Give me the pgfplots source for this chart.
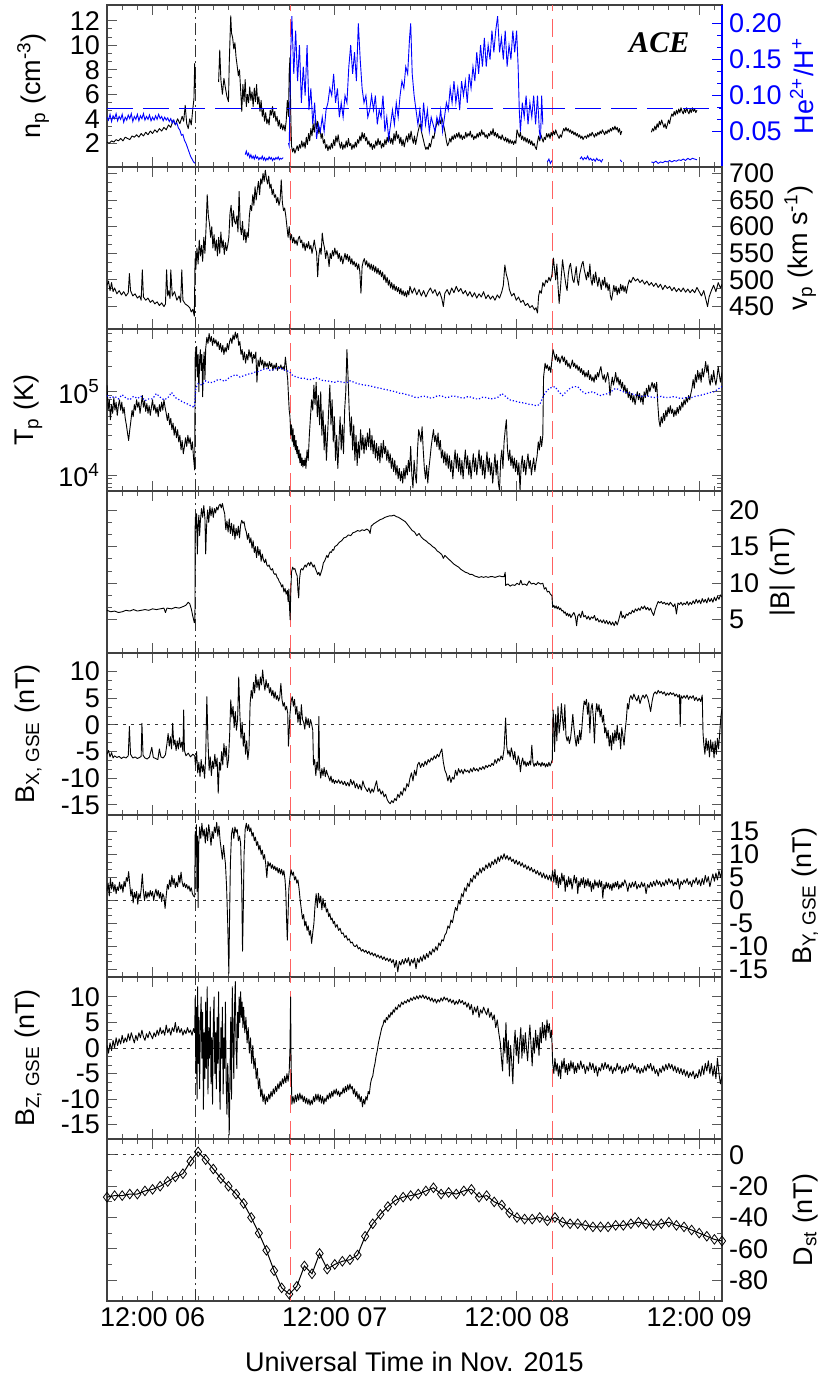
\documentclass[border=0pt]{standalone}
\usepackage{fontspec}
\setmainfont{Liberation Sans}
\newfontfamily\timesf{Liberation Serif}
\usepackage{pgfplots}
\pgfplotsset{compat=1.18}
\definecolor{redl}{rgb}{1,0.38,0.38}
\newcommand{\lbl}{\fontsize{13.5}{15}\selectfont}
\newcommand{\vlines}[2]{%
 \addplot[forget plot, black!80, line width=0.5pt, dash pattern=on 6pt off 2pt on 1pt off 2pt] coordinates {(17.6,#1) (17.6,#2)};
 \addplot[forget plot, redl, line width=0.6pt, dash pattern=on 9pt off 4pt] coordinates {(30.2,#1) (30.2,#2)};
 \addplot[forget plot, redl, line width=0.6pt, dash pattern=on 9pt off 4pt] coordinates {(64.7,#1) (64.7,#2)};
}
\newcommand{\zline}{\addplot[forget plot, black!80, line width=0.5pt, dash pattern=on 1.5pt off 2.5pt] coordinates {(6,0) (87,0)};}
\pgfplotsset{
 panel/.style={
  width=307.5pt, height=81pt, scale only axis, anchor=south west,
  xmin=6, xmax=87, xtick={12,36,60,84}, minor xtick={6,8,...,86}, xticklabels=\empty,
  tick align=inside, major tick length=5pt, minor tick length=2.5pt,
  axis line style={black!75, line width=0.6pt},
  every tick/.style={black!65, line width=0.5pt},
  tick label style={font=\lbl}, label style={font=\lbl},
  yticklabel style={inner ysep=0.5pt},
  /pgf/number format/assume math mode=true,
 },
 dat/.style={black, line width=0.45pt, line join=round},
 lefty/.style={yticklabel pos=left, every axis y label/.style={at={(axis description cs:#1,0.5)}, rotate=90, anchor=center, font=\lbl}},
 righty/.style={yticklabel pos=right, every axis y label/.style={at={(axis description cs:#1,0.5)}, rotate=90, anchor=center, font=\lbl}},
}
\begin{document}
\begin{tikzpicture}
\path[use as bounding box] (-53.5pt,-40.5pt) rectangle (361.5pt,650.5pt);
%================ Panel 1: n_p
\begin{axis}[panel, at={(0pt,567pt)}, lefty=-0.12, ytick pos=left,
 ymin=0.07, ymax=13.28, ytick={2,4,...,12}, minor y tick num=2,
 ylabel={n\textsubscript{p} (cm\textsuperscript{-3})}]
\vlines{0.07}{13.28}
\addplot[dat] coordinates {(6.0,2.1) (6.3,2.0) (6.6,2.2) (6.9,2.1) (7.2,2.3) (7.5,2.2) (7.8,2.4) (8.1,2.2) (8.4,2.5) (8.7,2.4) (9.0,2.3) (9.3,2.6) (9.6,2.5) (9.9,2.7) (10.2,2.5) (10.5,2.8) (10.8,2.6) (11.1,2.9) (11.4,2.7) (11.7,3.0) (12.0,2.8) (12.3,3.1) (12.6,2.9) (12.9,3.2) (13.2,3.0) (13.5,3.3) (13.8,3.1) (14.1,3.5) (14.4,3.3) (14.7,3.9) (15.0,3.5) (15.3,4.0) (15.6,3.6) (15.9,4.2) (16.1,3.8) (16.3,5.1) (16.5,3.6) (16.7,3.2) (16.9,4.0) (17.1,3.5) (17.3,4.8) (17.45,5.6) (17.55,8.5) (17.65,6.5)};
\addplot[dat] coordinates {(20.7,7.0) (20.85,9.6) (21.0,7.2) (21.2,6.0) (21.4,7.3) (21.6,6.5) (21.8,5.8) (22.0,5.4) (22.1,8.5) (22.2,10.5) (22.3,12.4) (22.4,11.0) (22.55,10.6) (22.7,9.7) (22.85,10.2) (23.0,9.0) (23.15,8.3) (23.3,7.5) (23.45,8.0) (23.6,6.4) (23.75,4.6) (23.9,6.8) (24.05,5.4) (24.2,7.2) (24.35,5.0) (24.5,6.0) (24.65,5.3) (24.8,6.6) (24.95,5.5) (25.1,6.2) (25.25,5.0) (25.4,6.5) (25.55,5.4) (25.7,6.8) (25.85,5.2) (26.0,5.8) (26.15,4.6) (26.3,5.5) (26.45,4.2) (26.6,4.8) (26.75,3.8) (26.9,4.5) (27.05,3.6) (27.2,4.0) (27.35,3.5) (27.5,4.7) (27.65,4.3) (27.8,5.0) (27.95,4.1) (28.1,4.6) (28.25,3.8) (28.4,4.2) (28.55,3.4) (28.7,3.9) (28.85,3.2) (29.0,3.6) (29.15,3.1) (29.3,3.5) (29.45,3.0) (29.6,3.8) (29.75,5.5) (29.9,4.2) (30.0,7.8) (30.1,9.0) (30.2,4.5) (30.3,1.8) (30.45,1.3) (30.6,1.6) (30.75,1.2) (30.9,1.5) (31.05,1.8) (31.2,1.4) (31.35,1.9) (31.5,1.6) (31.65,2.2) (31.8,1.7) (31.95,2.1) (32.1,1.6) (32.25,2.5) (32.4,1.9) (32.55,2.8) (32.7,2.2) (32.85,3.2) (33.0,2.6) (33.15,3.6) (33.3,2.9) (33.45,4.1) (33.6,3.2) (33.75,3.8) (33.9,2.8) (34.05,3.3) (34.2,2.4) (34.35,2.8) (34.5,2.0) (34.65,2.3) (34.8,1.6) (34.95,1.9) (35.1,1.4) (35.25,1.8) (35.4,1.5) (35.55,2.0) (35.7,1.6) (35.85,2.3) (36.0,1.8) (36.15,2.6) (36.3,2.1) (36.45,2.7) (36.6,2.0) (36.75,1.6) (36.9,2.1) (37.05,1.5) (37.2,1.9) (37.35,1.6) (37.5,2.2) (37.65,1.7) (37.8,2.4) (37.95,1.8) (38.1,2.0) (38.25,1.5) (38.4,1.9) (38.55,1.6) (38.7,2.1) (38.85,1.7) (39.0,2.3) (39.15,2.0) (39.3,2.6) (39.45,2.2) (39.6,2.9) (39.75,2.4) (39.9,2.8) (40.05,2.2) (40.2,2.5) (40.35,1.9) (40.5,2.2) (40.65,1.7) (40.8,2.0) (40.95,1.5) (41.1,1.9) (41.25,1.6) (41.4,2.2) (41.55,1.8) (41.7,2.4) (41.85,1.9) (42.0,2.2) (42.15,1.6) (42.3,2.0) (42.45,1.7) (42.6,2.3) (42.75,1.9) (42.9,2.5) (43.05,2.1) (43.2,2.6) (43.35,2.0) (43.5,2.4) (43.65,1.9) (43.8,2.8) (43.95,2.2) (44.1,3.0) (44.25,2.4) (44.4,2.7) (44.55,2.0) (44.7,2.5) (44.85,1.8) (45.0,2.3) (45.15,1.7) (45.3,2.2) (45.45,2.6) (45.6,2.1) (45.75,2.8) (45.9,2.3) (46.05,3.0) (46.2,2.4) (46.35,2.0) (46.5,2.6) (46.65,1.9) (46.8,2.4) (46.95,2.9) (47.1,3.3) (47.25,3.6) (47.4,3.0) (47.55,2.6) (47.7,2.2) (47.85,1.8) (48.0,1.5) (48.15,1.7) (48.3,1.5) (48.45,2.0) (48.6,1.7) (48.75,2.2) (48.9,2.6) (49.05,2.4) (49.2,3.0) (49.35,3.4) (49.5,3.8) (49.65,3.5) (49.8,4.0) (49.95,3.6) (50.1,4.1) (50.25,3.7) (50.4,3.3) (50.55,2.8) (50.7,2.2) (50.85,1.8) (51.0,2.0) (51.15,2.4) (51.3,2.1) (51.45,2.6) (51.6,2.3) (51.75,2.7) (51.9,2.4) (52.05,2.8) (52.2,2.5) (52.35,2.9) (52.5,2.4) (52.65,2.7) (52.8,2.3) (52.95,2.6) (53.1,2.4) (53.25,2.9) (53.4,2.5) (53.55,2.8) (53.7,2.6) (53.85,3.0) (54.0,2.5) (54.15,2.7) (54.3,2.3) (54.45,2.6) (54.6,2.4) (54.75,2.8) (54.9,2.5) (55.05,2.9) (55.2,2.6) (55.35,3.1) (55.5,2.7) (55.65,2.9) (55.8,2.5) (55.95,2.7) (56.1,2.4) (56.25,2.8) (56.4,2.6) (56.55,3.0) (56.7,2.7) (56.85,3.2) (57.0,2.6) (57.15,2.9) (57.3,2.5) (57.45,2.8) (57.6,2.4) (57.75,2.6) (57.9,2.3) (58.05,2.7) (58.2,2.4) (58.35,2.2) (58.5,2.5) (58.65,2.1) (58.8,2.4) (58.95,2.0) (59.1,2.3) (59.25,2.0) (59.4,2.2) (59.55,1.9) (59.7,2.2) (59.85,2.0) (60.0,3.1) (60.15,2.8) (60.3,2.5) (60.45,2.9) (60.6,2.3) (60.75,2.6) (60.9,2.2) (61.05,2.5) (61.2,2.1) (61.35,2.4) (61.5,2.0) (61.65,2.3) (61.8,1.9) (61.95,2.2) (62.1,1.8) (62.25,2.0) (62.4,1.7) (62.55,1.5) (62.7,2.1) (62.85,2.6) (63.0,2.2) (63.15,2.7) (63.3,2.4) (63.45,2.1) (63.6,2.5) (63.75,2.3) (63.9,2.8) (64.05,2.5) (64.2,2.8) (64.35,2.4) (64.5,2.9) (64.65,2.6) (64.8,3.0) (64.95,2.7) (65.1,3.1) (65.25,2.8) (65.4,2.6) (65.55,2.4) (65.7,2.7) (65.85,2.5) (66.0,2.9) (66.15,3.2) (66.3,3.0) (66.45,3.3) (66.6,3.0) (66.75,3.2) (66.9,2.9) (67.05,3.1) (67.2,2.8) (67.35,3.0) (67.5,2.7) (67.65,2.9) (67.8,2.6) (67.95,2.8) (68.1,2.5) (68.25,2.7) (68.4,2.4) (68.55,2.6) (68.7,2.3) (68.85,2.5) (69.0,2.6) (69.15,2.4) (69.3,2.7) (69.45,2.5) (69.6,2.8) (69.75,2.6) (69.9,2.9) (70.05,2.7) (70.2,2.5) (70.35,2.8) (70.5,2.6) (70.65,2.9) (70.8,2.7) (70.95,3.0) (71.1,2.8) (71.25,3.1) (71.4,2.9) (71.55,2.7) (71.7,3.0) (71.85,2.8) (72.0,3.1) (72.15,2.9) (72.3,3.2) (72.45,3.0) (72.6,3.3) (72.75,3.1) (72.9,3.4) (73.05,3.1) (73.2,3.3) (73.35,2.9) (73.5,3.2) (73.65,2.7) (73.8,3.0)};
\addplot[dat] coordinates {(77.7,2.9) (77.85,3.2) (78.0,3.0) (78.15,3.4) (78.3,3.1) (78.45,3.6) (78.6,3.3) (78.75,3.8) (78.9,3.5) (79.05,3.9) (79.2,3.6) (79.35,3.3) (79.5,3.6) (79.65,3.2) (79.8,3.5) (79.95,3.9) (80.1,3.6) (80.25,4.1) (80.4,4.4) (80.55,4.2) (80.7,4.6) (80.85,4.3) (81.0,4.7) (81.15,4.4) (81.3,4.8) (81.45,4.5) (81.6,4.9) (81.75,4.6) (81.9,4.4) (82.05,4.8) (82.2,4.5) (82.35,4.9) (82.5,4.6) (82.65,4.4) (82.8,4.8) (82.95,4.5) (83.1,4.9) (83.25,4.6) (83.4,4.8) (83.55,4.5) (83.7,4.7)};
\node[anchor=center] at (rel axis cs:0.898,0.765) {\fontsize{15}{17}\selectfont\timesf\bfseries\itshape ACE};
\end{axis}
\begin{axis}[panel, at={(0pt,567pt)}, axis x line=none, axis y line*=right,
 righty=1.13, ymin=0.001, ymax=0.2255, ytick={0.05,0.10,0.15,0.20}, yticklabels={0.05,0.10,0.15,0.20},
 minor y tick num=2, y axis line style={blue}, ytick style={blue}, yticklabel style={blue},
 ylabel={He\textsuperscript{2+}/H\textsuperscript{+}}, ylabel style={blue}]
\addplot[forget plot, blue, line width=0.6pt, dash pattern=on 13pt off 5pt] coordinates {(6,0.0815) (87,0.0815)};
\addplot[blue, line width=0.45pt] coordinates {(6.0,0.070) (6.2,0.066) (6.4,0.074) (6.6,0.064) (6.8,0.072) (7.0,0.068) (7.2,0.075) (7.4,0.065) (7.6,0.071) (7.8,0.067) (8.0,0.074) (8.2,0.063) (8.4,0.070) (8.6,0.066) (8.8,0.073) (9.0,0.068) (9.2,0.075) (9.4,0.064) (9.6,0.071) (9.8,0.067) (10.0,0.074) (10.2,0.065) (10.4,0.072) (10.6,0.068) (10.8,0.075) (11.0,0.066) (11.2,0.071) (11.4,0.067) (11.6,0.073) (11.8,0.065) (12.0,0.070) (12.2,0.066) (12.4,0.072) (12.6,0.067) (12.8,0.074) (13.0,0.068) (13.2,0.071) (13.4,0.065) (13.6,0.070) (13.8,0.066) (14.0,0.069) (14.2,0.064) (14.4,0.068) (14.6,0.062) (14.8,0.066) (15.0,0.060) (15.2,0.062) (15.4,0.055) (15.6,0.052) (15.8,0.045) (16.0,0.046) (16.2,0.038) (16.4,0.034) (16.6,0.028) (16.8,0.022) (17.0,0.016) (17.2,0.012) (17.4,0.008) (17.6,0.006)};
\addplot[blue, line width=0.45pt] coordinates {(24.2,0.018) (24.35,0.023) (24.5,0.017) (24.65,0.020) (24.8,0.014) (24.95,0.018) (25.1,0.013) (25.25,0.016) (25.4,0.012) (25.55,0.017) (25.7,0.013) (25.85,0.015) (26.0,0.011) (26.15,0.014) (26.3,0.012) (26.45,0.016) (26.6,0.011) (26.75,0.014) (26.9,0.010) (27.05,0.013) (27.2,0.011) (27.35,0.015) (27.5,0.012) (27.65,0.014) (27.8,0.010) (27.95,0.013) (28.1,0.011) (28.25,0.014) (28.4,0.012) (28.55,0.015) (28.7,0.011) (28.85,0.013) (29.0,0.012) (29.2,0.014)};
\addplot[blue, line width=0.45pt] coordinates {(29.9,0.034) (30.0,0.03) (30.2,0.16) (30.35,0.21) (30.6,0.13) (30.85,0.19) (31.1,0.12) (31.35,0.17) (31.6,0.09) (31.85,0.14) (32.1,0.10) (32.35,0.17) (32.6,0.08) (32.85,0.11) (33.1,0.06) (33.35,0.09) (33.6,0.04) (33.85,0.06) (34.1,0.05) (34.35,0.07) (34.6,0.05) (34.85,0.08) (35.1,0.09) (35.35,0.11) (35.6,0.10) (35.85,0.13) (36.1,0.09) (36.35,0.11) (36.6,0.07) (36.85,0.09) (37.1,0.07) (37.35,0.10) (37.6,0.09) (37.85,0.14) (38.1,0.17) (38.35,0.13) (38.6,0.16) (38.85,0.12) (39.1,0.20) (39.35,0.15) (39.6,0.11) (39.85,0.09) (40.1,0.10) (40.35,0.07) (40.6,0.08) (40.85,0.10) (41.1,0.08) (41.35,0.10) (41.6,0.06) (41.85,0.08) (42.1,0.07) (42.35,0.10) (42.6,0.05) (42.85,0.07) (43.1,0.04) (43.35,0.06) (43.6,0.08) (43.85,0.06) (44.1,0.09) (44.35,0.07) (44.6,0.10) (44.85,0.12) (45.1,0.11) (45.35,0.14) (45.6,0.13) (45.85,0.18) (46.0,0.20) (46.2,0.13) (46.45,0.10) (46.7,0.08) (46.95,0.06) (47.2,0.08) (47.45,0.05) (47.7,0.09) (47.95,0.06) (48.2,0.08) (48.45,0.05) (48.7,0.07) (48.95,0.06) (49.2,0.05) (49.45,0.07) (49.7,0.06) (49.95,0.08) (50.2,0.05) (50.45,0.07) (50.7,0.09) (50.95,0.08) (51.2,0.11) (51.45,0.09) (51.7,0.12) (51.95,0.09) (52.2,0.11) (52.45,0.08) (52.7,0.12) (52.95,0.10) (53.2,0.12) (53.45,0.09) (53.7,0.13) (53.95,0.11) (54.2,0.14) (54.45,0.12) (54.7,0.16) (54.95,0.13) (55.2,0.17) (55.45,0.14) (55.7,0.18) (55.95,0.14) (56.2,0.17) (56.45,0.15) (56.7,0.19) (56.95,0.16) (57.2,0.19) (57.45,0.21) (57.7,0.16) (57.95,0.18) (58.2,0.15) (58.45,0.19) (58.7,0.14) (58.95,0.17) (59.2,0.15) (59.45,0.19) (59.7,0.16) (59.95,0.19) (60.15,0.14) (60.3,0.08) (60.45,0.05) (60.7,0.09) (60.95,0.07) (61.2,0.10) (61.45,0.06) (61.7,0.09) (61.95,0.07) (62.2,0.10) (62.45,0.06) (62.7,0.10) (62.95,0.05) (63.1,0.04) (63.25,0.10) (63.4,0.06)};
\addplot[blue, line width=0.45pt] coordinates {(64.0,0.008) (64.2,0.012) (64.4,0.006) (64.6,0.010)};
\addplot[blue, line width=0.45pt] coordinates {(68.3,0.012) (68.5,0.015) (68.7,0.011) (68.9,0.014) (69.1,0.012) (69.3,0.016) (69.5,0.011) (69.7,0.013) (69.9,0.010) (70.1,0.012) (70.3,0.009) (70.5,0.013) (70.7,0.010) (70.9,0.011) (71.1,0.008) (71.3,0.012)};
\addplot[blue, line width=0.45pt] coordinates {(73.6,0.011) (73.8,0.008)};
\addplot[blue, line width=0.45pt] coordinates {(77.7,0.008) (78.0,0.007) (78.3,0.009) (78.6,0.006) (78.9,0.008) (79.2,0.007) (79.5,0.009) (79.8,0.008) (80.1,0.010) (80.4,0.008) (80.7,0.010) (81.0,0.009) (81.3,0.011) (81.6,0.010) (81.9,0.012) (82.2,0.010) (82.5,0.013) (82.8,0.011) (83.1,0.013) (83.4,0.012) (83.7,0.011)};
\end{axis}
%================ Panel 2: v_p
\begin{axis}[panel, at={(0pt,486pt)}, righty=1.127,
 ymin=408, ymax=712, ytick={450,500,...,700}, minor y tick num=2,
 ylabel={v\textsubscript{p} (km s\textsuperscript{-1})}]
\vlines{408}{712}
\addplot[dat] coordinates {(6.0,490) (6.2,498) (6.4,480) (6.6,495) (6.8,478) (7.0,485) (7.3,474) (7.6,480) (7.9,472) (8.2,478) (8.5,470) (8.8,476) (8.95,512) (9.1,480) (9.4,470) (9.7,474) (10.0,466) (10.3,470) (10.5,462) (10.65,519) (10.8,468) (11.1,462) (11.4,466) (11.7,458) (12.0,462) (12.3,455) (12.6,459) (12.9,452) (13.2,457) (13.5,450) (13.7,455) (13.85,519) (14.0,470) (14.15,480) (14.3,465) (14.4,519) (14.6,470) (14.9,478) (15.2,462) (15.5,470) (15.7,458) (15.85,519) (16.0,462) (16.3,455) (16.6,452) (16.9,448) (17.1,440) (17.3,445) (17.5,432) (17.6,540) (17.7,520) (17.85,560) (18.0,530) (18.15,575) (18.3,545) (18.45,565) (18.6,535) (18.75,580) (18.9,550) (19.05,600) (19.2,660) (19.35,620) (19.5,605) (19.65,580) (19.8,600) (19.95,560) (20.1,585) (20.25,555) (20.4,575) (20.55,545) (20.7,580) (20.85,550) (21.0,590) (21.15,560) (21.3,575) (21.45,548) (21.6,570) (21.75,555) (21.9,565) (22.05,580) (22.2,625) (22.35,640) (22.5,600) (22.65,630) (22.8,610) (22.95,605) (23.1,620) (23.25,590) (23.4,666) (23.55,600) (23.7,585) (23.85,610) (24.0,575) (24.15,595) (24.3,570) (24.45,590) (24.6,580) (24.75,620) (24.9,640) (25.05,630) (25.2,660) (25.35,640) (25.5,675) (25.65,650) (25.8,670) (25.95,685) (26.1,660) (26.25,690) (26.4,680) (26.55,700) (26.7,685) (26.85,706) (27.0,690) (27.15,680) (27.3,695) (27.45,672) (27.6,680) (27.75,660) (27.9,670) (28.05,655) (28.2,660) (28.35,645) (28.5,655) (28.65,640) (28.8,650) (28.95,688) (29.1,645) (29.25,630) (29.4,635) (29.55,620) (29.7,600) (29.85,580) (30.0,600) (30.15,575) (30.3,585) (30.45,570) (30.6,580) (30.75,568) (30.9,575) (31.05,565) (31.2,578) (31.35,582) (31.5,570) (31.65,575) (31.8,560) (31.95,570) (32.1,555) (32.25,568) (32.4,560) (32.55,572) (32.7,558) (32.85,565) (33.0,550) (33.15,562) (33.3,575) (33.45,560) (33.6,552) (33.75,506) (33.9,545) (34.05,560) (34.2,548) (34.35,588) (34.5,570) (34.65,560) (34.8,540) (34.95,555) (35.1,545) (35.25,525) (35.4,550) (35.55,540) (35.7,555) (35.85,545) (36.0,560) (36.15,548) (36.3,555) (36.45,540) (36.6,550) (36.75,535) (36.9,545) (37.05,530) (37.2,540) (37.35,550) (37.5,538) (37.65,548) (37.8,535) (37.95,545) (38.1,530) (38.25,540) (38.4,528) (38.55,535) (38.7,525) (38.85,532) (39.0,520) (39.15,530) (39.3,515) (39.45,475) (39.6,525) (39.75,535) (39.9,540) (40.05,528) (40.2,536) (40.35,524) (40.5,532) (40.65,520) (40.8,530) (40.95,518) (41.1,528) (41.25,515) (41.4,525) (41.55,512) (41.7,522) (41.85,510) (42.0,518) (42.15,506) (42.3,515) (42.45,500) (42.6,510) (42.75,495) (42.9,505) (43.05,490) (43.2,500) (43.35,485) (43.5,495) (43.65,482) (43.8,492) (43.95,480) (44.1,488) (44.25,478) (44.4,486) (44.55,474) (44.7,484) (44.85,472) (45.0,480) (45.15,470) (45.3,478) (45.45,468) (45.6,480) (45.75,472) (45.9,488) (46.2,475) (46.5,485) (46.8,472) (47.1,482) (47.4,470) (47.7,480) (48.0,468) (48.3,478) (48.6,485) (48.9,475) (49.2,482) (49.5,470) (49.8,478) (50.1,465) (50.3,450) (50.5,475) (50.8,482) (51.1,472) (51.4,485) (51.7,476) (52.0,488) (52.3,478) (52.6,484) (52.9,474) (53.2,480) (53.5,470) (53.8,478) (54.1,468) (54.4,476) (54.7,466) (55.0,474) (55.3,468) (55.6,478) (55.9,465) (56.2,472) (56.5,464) (56.8,470) (57.1,462) (57.4,472) (57.7,466) (58.0,478) (58.2,490) (58.4,528) (58.6,510) (58.8,500) (59.0,482) (59.3,470) (59.6,475) (59.9,462) (60.2,468) (60.5,458) (60.8,462) (61.1,452) (61.4,456) (61.7,448) (62.0,452) (62.3,444) (62.5,448) (62.7,438) (62.85,470) (63.0,480) (63.2,475) (63.4,495) (63.6,488) (63.8,500) (64.0,495) (64.2,505) (64.4,498) (64.6,510) (64.8,541) (64.95,520) (65.1,500) (65.25,530) (65.4,490) (65.55,456) (65.7,480) (65.85,510) (66.0,538) (66.15,520) (66.3,505) (66.45,490) (66.6,480) (66.75,510) (66.9,525) (67.05,531) (67.2,515) (67.35,500) (67.5,495) (67.65,510) (67.8,525) (67.95,500) (68.1,490) (68.25,510) (68.4,520) (68.55,530) (68.7,535) (68.85,520) (69.0,510) (69.15,500) (69.3,515) (69.45,505) (69.6,530) (69.75,500) (69.9,490) (70.05,510) (70.2,495) (70.35,515) (70.5,500) (70.65,488) (70.8,505) (70.95,495) (71.1,482) (71.25,500) (71.4,490) (71.55,505) (71.7,485) (71.85,495) (72.0,480) (72.15,492) (72.3,470) (72.45,462) (72.6,475) (72.75,490) (72.9,478) (73.05,488) (73.2,472) (73.35,485) (73.5,475) (73.65,492) (73.8,480) (73.95,490) (74.1,478) (74.25,488) (74.4,475) (74.6,490) (74.8,500) (75.0,495) (75.3,505) (75.6,498) (75.9,502) (76.2,495) (76.5,500) (76.8,492) (77.1,498) (77.4,490) (77.7,495) (78.0,488) (78.3,494) (78.6,486) (78.9,492) (79.2,482) (79.5,490) (79.8,484) (80.1,488) (80.4,480) (80.7,486) (81.0,478) (81.3,484) (81.6,478) (81.9,485) (82.2,477) (82.5,483) (82.8,476) (83.1,482) (83.4,476) (83.7,486) (84.0,478) (84.3,470) (84.6,480) (84.9,462) (85.1,450) (85.3,468) (85.6,480) (85.9,490) (86.2,478) (86.5,495) (86.8,485) (87.0,492)};
\end{axis}
%================ Panel 3: T_p
\begin{axis}[panel, at={(0pt,405pt)}, lefty=-0.128, ymode=log,
 ymin=6430, ymax=5.66e5, ytick={1e4,1e5}, yticklabels={10\textsuperscript{4},10\textsuperscript{5}},
 minor ytick={7000,8000,9000,20000,30000,40000,50000,60000,70000,80000,90000,200000,300000,400000,500000},
 ylabel={T\textsubscript{p} (K)}]
\vlines{6500}{5.6e5}
\addplot[dat] coordinates {(6.0,1.2e5) (6.15,6e4) (6.3,8e4) (6.45,4.6e4) (6.6,7e4) (6.75,5.5e4) (6.9,8.5e4) (7.05,6e4) (7.2,7.5e4) (7.35,5.2e4) (7.5,6.8e4) (7.65,8e4) (7.8,6e4) (7.95,7.5e4) (8.1,5.5e4) (8.25,6.5e4) (8.4,4.8e4) (8.55,4e4) (8.7,3.2e4) (8.85,2.6e4) (9.0,3.5e4) (9.15,4.5e4) (9.3,6e4) (9.45,5e4) (9.6,7e4) (9.75,6e4) (9.9,8e4) (10.05,6.5e4) (10.2,7.5e4) (10.35,5.5e4) (10.5,7e4) (10.65,9e4) (10.8,6.5e4) (10.95,7.8e4) (11.1,5.8e4) (11.25,7.2e4) (11.4,5.5e4) (11.55,6.8e4) (11.7,5.2e4) (11.85,6.5e4) (12.0,8e4) (12.15,6e4) (12.3,7e4) (12.45,5.5e4) (12.6,6.5e4) (12.75,5e4) (12.9,7e4) (13.05,5.8e4) (13.2,7.5e4) (13.35,6e4) (13.5,8e4) (13.65,6.5e4) (13.8,5.5e4) (13.95,4.5e4) (14.1,5.5e4) (14.25,4e4) (14.4,4.8e4) (14.55,3.5e4) (14.7,4.2e4) (14.85,3e4) (15.0,3.8e4) (15.15,2.8e4) (15.3,3.5e4) (15.45,2.5e4) (15.6,3e4) (15.75,2e4) (15.9,2.6e4) (16.05,1.8e4) (16.2,2.2e4) (16.35,2.8e4) (16.5,2.2e4) (16.65,3e4) (16.8,2.4e4) (16.95,2.8e4) (17.1,2e4) (17.25,2.5e4) (17.4,1.6e4) (17.55,1.15e4) (17.62,3e5) (17.7,2e5) (17.8,3.5e5) (17.9,1.5e5) (18.0,2.8e5) (18.1,1e5) (18.2,2.4e5) (18.3,3.2e5) (18.4,1.8e5) (18.5,2.8e5) (18.6,8.7e4) (18.7,2.2e5) (18.8,3e5) (18.9,1.4e5) (19.0,3.3e5) (19.15,4.5e5) (19.3,3.8e5) (19.45,5e5) (19.6,4e5) (19.75,4.6e5) (19.9,3.6e5) (20.05,4.4e5) (20.2,3.8e5) (20.35,4.2e5) (20.5,3.5e5) (20.65,4e5) (20.8,3.2e5) (20.95,3.8e5) (21.1,3e5) (21.25,3.6e5) (21.4,2.8e5) (21.55,3.4e5) (21.7,3e5) (21.85,3.8e5) (22.0,3.2e5) (22.15,4e5) (22.3,4.4e5) (22.45,3.8e5) (22.6,4.8e5) (22.75,4.2e5) (22.9,5.2e5) (23.05,4.4e5) (23.2,5e5) (23.35,3.6e5) (23.5,4e5) (23.65,2.8e5) (23.8,3.2e5) (23.95,2.4e5) (24.1,3e5) (24.25,2.2e5) (24.4,2.8e5) (24.55,2.4e5) (24.7,3.2e5) (24.85,2.6e5) (25.0,3e5) (25.15,2.2e5) (25.3,2.8e5) (25.45,2.5e5) (25.6,3e5) (25.75,1.3e5) (25.9,2.4e5) (26.05,2e5) (26.2,2.6e5) (26.35,2.1e5) (26.5,2.4e5) (26.65,1.9e5) (26.8,2.3e5) (26.95,2e5) (27.1,2.2e5) (27.25,1.9e5) (27.4,2.3e5) (27.55,2e5) (27.7,2.2e5) (27.85,1.8e5) (28.0,2.1e5) (28.15,1.9e5) (28.3,2.2e5) (28.45,1.8e5) (28.6,2e5) (28.75,1.9e5) (28.9,2.1e5) (29.05,1.85e5) (29.2,2e5) (29.35,1.8e5) (29.5,2.6e5) (29.65,1.9e5) (29.8,1.4e5) (29.9,9e4) (30.0,6e4) (30.1,5e4) (30.2,3e4) (30.3,4e4) (30.4,2.5e4) (30.5,3.6e4) (30.6,2.2e4) (30.7,3e4) (30.8,2e4) (30.9,2.6e4) (31.0,1.8e4) (31.1,2.2e4) (31.2,1.6e4) (31.3,2e4) (31.4,1.4e4) (31.5,1.8e4) (31.6,1.3e4) (31.7,1.6e4) (31.8,1.25e4) (31.9,1.5e4) (32.0,1.3e4) (32.1,1.6e4) (32.2,1.2e4) (32.35,2e4) (32.5,1.5e4) (32.65,3e4) (32.8,5e4) (32.95,8e4) (33.1,6e4) (33.25,1.2e5) (33.4,7e4) (33.55,1.3e5) (33.7,5e4) (33.85,9e4) (34.0,4e4) (34.15,1e5) (34.3,3e4) (34.45,6e4) (34.6,2e4) (34.75,4e4) (34.9,1.5e4) (35.05,3e4) (35.2,6e4) (35.35,1.2e5) (35.5,4e4) (35.65,8e4) (35.8,2.5e4) (35.95,5e4) (36.1,1.5e4) (36.25,3e4) (36.4,1.2e4) (36.55,2.5e4) (36.7,5e4) (36.85,2e4) (37.0,4e4) (37.15,1.8e4) (37.3,6e4) (37.45,1e5) (37.6,3.2e5) (37.75,1.5e5) (37.9,6e4) (38.05,3e4) (38.2,5e4) (38.35,2e4) (38.5,4e4) (38.65,1.5e4) (38.8,3e4) (38.95,1.3e4) (39.1,2.5e4) (39.25,1.6e4) (39.4,3.5e4) (39.55,2e4) (39.7,3e4) (39.85,1.8e4) (40.0,2.8e4) (40.15,2e4) (40.3,3.2e4) (40.45,2.2e4) (40.6,3.6e4) (40.75,2e4) (40.9,3e4) (41.05,1.8e4) (41.2,2.6e4) (41.35,1.6e4) (41.5,2.4e4) (41.65,1.5e4) (41.8,2.2e4) (41.95,1.4e4) (42.1,2.4e4) (42.25,1.6e4) (42.4,2.6e4) (42.55,1.8e4) (42.7,2.2e4) (42.85,1.5e4) (43.0,2e4) (43.15,1.4e4) (43.3,1.8e4) (43.45,1.2e4) (43.6,1.6e4) (43.75,1.1e4) (43.9,1.5e4) (44.05,1e4) (44.2,1.3e4) (44.35,9e3) (44.5,1.2e4) (44.65,8.5e3) (44.8,1.1e4) (44.95,8e3) (45.1,1.2e4) (45.25,9e3) (45.4,1.3e4) (45.55,1e4) (45.7,1.5e4) (45.85,1.1e4) (46.0,2.2e4) (46.15,1e4) (46.3,7e3) (46.45,1.5e4) (46.6,1e4) (46.75,8e3) (46.9,2e4) (47.05,3.5e4) (47.2,3e4) (47.35,2.5e4) (47.5,3.8e4) (47.65,2e4) (47.8,1.2e4) (47.95,9e3) (48.1,1.3e4) (48.25,8e3) (48.4,1.2e4) (48.55,1.6e4) (48.7,2.2e4) (48.85,2.8e4) (49.0,3.5e4) (49.15,2.5e4) (49.3,3e4) (49.45,2.2e4) (49.6,3.2e4) (49.75,2e4) (49.9,2.6e4) (50.05,1.6e4) (50.2,2e4) (50.35,1.4e4) (50.5,1.9e4) (50.65,1.3e4) (50.8,1.8e4) (50.95,1.2e4) (51.1,1.7e4) (51.25,1.1e4) (51.4,1.5e4) (51.55,9e3) (51.7,1.4e4) (51.85,2e4) (52.0,1.2e4) (52.15,1.8e4) (52.3,1.1e4) (52.45,1.6e4) (52.6,1e4) (52.75,1.5e4) (52.9,9e3) (53.05,1.4e4) (53.2,2e4) (53.35,1.2e4) (53.5,1.7e4) (53.65,1e4) (53.8,1.5e4) (53.95,9e3) (54.1,1.3e4) (54.25,1.8e4) (54.4,1.1e4) (54.55,1.6e4) (54.7,1e4) (54.85,1.4e4) (55.0,2e4) (55.15,1.2e4) (55.3,1.7e4) (55.45,1e4) (55.6,1.5e4) (55.75,9e3) (55.9,1.3e4) (56.05,1.9e4) (56.2,1.1e4) (56.35,1.6e4) (56.5,1e4) (56.65,1.4e4) (56.8,8e3) (56.95,1.2e4) (57.1,1.8e4) (57.25,1e4) (57.4,1.5e4) (57.55,8e3) (57.7,6.5e3) (57.85,1.5e4) (58.0,2e4) (58.15,1.2e4) (58.3,2.5e4) (58.45,3.5e4) (58.6,4.6e4) (58.75,2e4) (58.9,1.5e4) (59.05,2e4) (59.2,1.3e4) (59.35,1.7e4) (59.5,1.2e4) (59.65,1.6e4) (59.8,1.1e4) (59.95,1.5e4) (60.1,1e4) (60.25,1.4e4) (60.4,6.5e3) (60.55,1.3e4) (60.7,1.7e4) (60.85,1.1e4) (61.0,1.5e4) (61.15,1e4) (61.3,1.4e4) (61.45,1.8e4) (61.6,1.2e4) (61.75,1.5e4) (61.9,1e4) (62.05,1.3e4) (62.2,1.6e4) (62.35,1.1e4) (62.5,1.4e4) (62.65,1.7e4) (62.8,2.5e4) (62.95,2e4) (63.1,2.9e4) (63.25,2.2e4) (63.4,3e4) (63.5,1.5e5) (63.6,1.8e5) (63.7,2.2e5) (63.85,1.9e5) (64.0,2.1e5) (64.15,1.8e5) (64.3,2e5) (64.45,1.7e5) (64.6,2.4e5) (64.75,3.2e5) (64.9,2.8e5) (65.05,2.4e5) (65.2,2.8e5) (65.35,2.3e5) (65.5,2.6e5) (65.65,2.2e5) (65.8,2.5e5) (65.95,2.7e5) (66.1,2.3e5) (66.25,2.6e5) (66.4,2.1e5) (66.55,2.4e5) (66.7,2e5) (66.85,2.2e5) (67.0,1.9e5) (67.15,2.1e5) (67.3,2.4e5) (67.45,2e5) (67.6,2.2e5) (67.75,1.9e5) (67.9,2.1e5) (68.05,1.8e5) (68.2,2e5) (68.35,1.7e5) (68.5,1.9e5) (68.65,1.6e5) (68.8,1.8e5) (68.95,1.5e5) (69.1,1.7e5) (69.25,1.5e5) (69.4,1.8e5) (69.55,1.4e5) (69.7,1.6e5) (69.85,1.35e5) (70.0,1.5e5) (70.15,1.3e5) (70.3,1.6e5) (70.45,1.4e5) (70.6,1.7e5) (70.75,1.5e5) (70.9,1.8e5) (71.05,2e5) (71.2,1.6e5) (71.35,1.4e5) (71.5,1.6e5) (71.65,1.3e5) (71.8,1.5e5) (71.95,1.7e5) (72.1,1.4e5) (72.25,9e4) (72.4,1.2e5) (72.55,1.5e5) (72.7,1.2e5) (72.85,1.4e5) (73.0,1.7e5) (73.15,1.3e5) (73.3,1.5e5) (73.45,1.2e5) (73.6,1.4e5) (73.75,1.1e5) (73.9,1.3e5) (74.05,1e5) (74.2,1.2e5) (74.35,9.5e4) (74.5,1.1e5) (74.65,8.5e4) (74.8,1e5) (74.95,8e4) (75.1,9.5e4) (75.25,7.5e4) (75.4,9e4) (75.55,7e4) (75.7,8.5e4) (75.85,1e5) (76.0,8e4) (76.15,9.5e4) (76.3,7.5e4) (76.45,9e4) (76.6,7e4) (76.75,1e5) (76.9,8.5e4) (77.05,1.1e5) (77.2,9e4) (77.35,1.2e5) (77.5,1e5) (77.65,1.15e5) (77.8,1.3e5) (77.95,1.1e5) (78.1,1.25e5) (78.25,1e5) (78.4,1.3e5) (78.55,7e4) (78.7,4.5e4) (78.85,3.8e4) (79.0,5e4) (79.15,4.2e4) (79.3,5.5e4) (79.45,4.5e4) (79.6,6e4) (79.75,5e4) (79.9,6.5e4) (80.05,5.5e4) (80.2,6.8e4) (80.35,5.5e4) (80.5,6.2e4) (80.65,5e4) (80.8,6e4) (80.95,5.2e4) (81.1,6.5e4) (81.25,5.5e4) (81.4,6.8e4) (81.55,6e4) (81.7,7.5e4) (81.85,6.5e4) (82.0,8e4) (82.15,7e4) (82.3,8.5e4) (82.45,7.5e4) (82.6,9e4) (82.75,8e4) (82.9,9.5e4) (83.05,1.1e5) (83.2,1.4e5) (83.35,1.1e5) (83.5,1.6e5) (83.65,1.3e5) (83.8,1.8e5) (83.95,1.4e5) (84.1,1.7e5) (84.25,1.3e5) (84.4,1.9e5) (84.55,1.5e5) (84.7,1.8e5) (84.85,2.3e5) (85.0,1.7e5) (85.15,2.1e5) (85.3,1.4e5) (85.45,1.2e5) (85.6,1.6e5) (85.75,1.3e5) (85.9,1.8e5) (86.05,1.4e5) (86.2,1.2e5) (86.35,1.5e5) (86.5,2e5) (86.65,1.6e5) (86.8,1.3e5) (87.0,1.7e5)};
\addplot[blue, line width=0.6pt, densely dotted] coordinates {(6,9e4) (6.5,8.4e4) (7,8.8e4) (7.5,8.2e4) (8,9.2e4) (8.5,8.4e4) (9,8e4) (9.5,8.8e4) (10,8.3e4) (10.5,8.8e4) (11,7.8e4) (11.5,8.2e4) (12,8.2e4) (12.5,9.5e4) (13,8.6e4) (13.5,8e4) (14,8.4e4) (14.5,9.8e4) (15,8.5e4) (15.5,8e4) (16,7.5e4) (16.5,7.2e4) (17,6.8e4) (17.5,6.5e4) (17.7,1.1e5) (18,1.25e5) (18.5,1.2e5) (19,1.35e5) (19.5,1.28e5) (20,1.3e5) (20.5,1.38e5) (21,1.4e5) (21.5,1.33e5) (22,1.45e5) (22.5,1.55e5) (23,1.6e5) (23.5,1.5e5) (24,1.55e5) (24.5,1.62e5) (25,1.65e5) (25.5,1.72e5) (26,1.75e5) (26.5,1.85e5) (27,1.9e5) (27.5,1.8e5) (28,1.85e5) (28.5,1.95e5) (29,1.9e5) (29.5,1.8e5) (30,1.75e5) (30.5,1.55e5) (31,1.5e5) (31.5,1.45e5) (32,1.45e5) (32.5,1.4e5) (33,1.4e5) (33.5,1.48e5) (34,1.42e5) (34.5,1.35e5) (35,1.35e5) (35.5,1.32e5) (36,1.3e5) (36.5,1.34e5) (37,1.3e5) (37.5,1.28e5) (38,1.35e5) (38.5,1.3e5) (39,1.25e5) (39.5,1.22e5) (40,1.2e5) (40.5,1.18e5) (41,1.15e5) (41.5,1.12e5) (42,1.1e5) (42.5,1.07e5) (43,1.05e5) (43.5,1.02e5) (44,1e5) (44.5,9.6e4) (45,9.5e4) (45.5,9.2e4) (46,9e4) (46.5,8.6e4) (47,8.5e4) (47.5,8.8e4) (48,8.8e4) (48.5,8.4e4) (49,8.5e4) (49.5,8.9e4) (50,9e4) (50.5,8.5e4) (51,8.6e4) (51.5,8.9e4) (52,8.8e4) (52.5,8.5e4) (53,8.4e4) (53.5,8.7e4) (54,8.6e4) (54.5,8.2e4) (55,8.2e4) (55.5,8.6e4) (56,8.5e4) (56.5,8.2e4) (57,8.3e4) (57.5,8.6e4) (58,9.5e4) (58.5,8.8e4) (59,8e4) (59.5,7.8e4) (60,7.6e4) (60.5,7.4e4) (61,7.3e4) (61.5,7.1e4) (62,7e4) (62.5,6.8e4) (63,7e4) (63.5,9e4) (64,1.05e5) (64.5,1.12e5) (65,1.15e5) (65.5,1e5) (66,9e4) (66.5,1e5) (67,1.1e5) (67.5,1.15e5) (68,1.15e5) (68.5,1.02e5) (69,9.5e4) (69.5,9.8e4) (70,1e5) (70.5,9.4e4) (71,9e4) (71.5,9.3e4) (72,9.5e4) (72.5,1.02e5) (73,1.1e5) (73.5,1.05e5) (74,1e5) (74.5,9.8e4) (75,9.5e4) (75.5,9.2e4) (76,9e4) (76.5,8.8e4) (77,9e4) (77.5,8.7e4) (78,8.5e4) (78.5,8.6e4) (79,8.8e4) (79.5,8.5e4) (80,8.5e4) (80.5,8.7e4) (81,8.6e4) (81.5,8.3e4) (82,8.4e4) (82.5,8.6e4) (83,8.5e4) (83.5,8.8e4) (84,9e4) (84.5,9.2e4) (85,9.5e4) (85.5,9.8e4) (86,1e5) (86.5,1.08e5) (87,1.15e5)};
\end{axis}
%================ Panel 4: |B|
\begin{axis}[panel, at={(0pt,324pt)}, righty=1.098,
 ymin=0.47, ymax=22.6, ytick={5,10,15,20}, minor y tick num=2,
 ylabel={|B| (nT)}]
\vlines{0.47}{22.6}
\addplot[dat] coordinates {(6.0,6.3) (6.5,6.1) (7.0,6.2) (7.5,6.0) (8.0,6.1) (8.5,6.3) (9.0,6.2) (9.5,6.4) (10.0,6.2) (10.5,6.3) (11.0,6.4) (11.5,6.3) (12.0,6.5) (12.5,6.4) (13.0,6.5) (13.5,6.6) (13.7,6.0) (13.9,6.6) (14.5,6.5) (15.0,6.7) (15.5,6.6) (16.0,6.8) (16.4,7.0) (16.7,7.4) (16.9,7.2) (17.1,6.5) (17.3,5.5) (17.5,4.6) (17.58,5.0) (17.62,19.0) (17.7,17.5) (17.8,19.5) (17.9,14.0) (18.0,18.0) (18.1,19.3) (18.2,16.5) (18.3,18.5) (18.45,20.2) (18.6,19.0) (18.75,20.6) (18.9,18.8) (19.0,14.0) (19.1,17.5) (19.25,20.0) (19.4,18.3) (19.55,20.5) (19.7,19.2) (19.85,20.3) (20.0,19.0) (20.15,20.2) (20.3,19.6) (20.45,20.4) (20.6,20.0) (20.75,20.6) (20.9,20.8) (21.05,20.3) (21.2,20.9) (21.35,20.1) (21.5,19.5) (21.65,17.3) (21.8,18.5) (21.95,17.0) (22.1,18.8) (22.25,16.8) (22.4,18.2) (22.55,16.5) (22.7,18.0) (22.85,16.0) (23.0,17.5) (23.15,16.5) (23.3,17.8) (23.45,16.2) (23.6,18.0) (23.75,18.6) (23.9,18.2) (24.05,18.4) (24.2,17.5) (24.35,17.0) (24.5,16.0) (24.65,16.8) (24.8,15.5) (24.95,16.2) (25.1,14.8) (25.25,15.8) (25.4,14.2) (25.55,15.0) (25.7,13.5) (25.85,15.0) (26.0,13.8) (26.15,14.6) (26.3,13.0) (26.45,14.0) (26.6,13.2) (26.75,12.8) (26.9,13.3) (27.05,12.5) (27.2,12.3) (27.35,12.5) (27.5,12.0) (27.65,11.8) (27.8,12.0) (27.95,11.4) (28.1,11.2) (28.25,11.3) (28.4,10.8) (28.55,10.6) (28.7,10.2) (28.85,10.0) (29.0,9.5) (29.15,9.8) (29.3,8.8) (29.45,9.3) (29.6,8.5) (29.75,9.0) (29.85,7.5) (29.95,9.2) (30.05,6.5) (30.12,5.0) (30.2,8.5) (30.3,11.5) (30.45,12.2) (30.6,11.9) (30.75,12.0) (30.9,11.4) (31.05,11.0) (31.15,9.0) (31.25,8.0) (31.35,10.5) (31.5,11.8) (31.65,12.0) (31.8,11.8) (31.95,12.2) (32.1,12.5) (32.25,12.2) (32.4,12.6) (32.55,12.8) (32.7,12.4) (32.85,12.9) (33.0,12.6) (33.15,12.2) (33.3,12.5) (33.45,12.0) (33.6,11.6) (33.75,11.2) (33.9,11.5) (34.05,11.0) (34.2,11.5) (34.35,12.0) (34.5,12.8) (34.65,13.0) (34.8,13.4) (34.95,13.8) (35.1,13.5) (35.25,14.0) (35.4,14.3) (35.55,14.2) (35.7,14.6) (35.85,14.5) (36.0,15.0) (36.3,15.2) (36.6,15.6) (36.9,15.8) (37.2,16.2) (37.5,16.3) (37.8,16.6) (38.1,16.5) (38.4,16.9) (38.7,17.0) (39.0,17.2) (39.3,17.1) (39.6,17.3) (39.9,17.2) (40.2,17.4) (40.5,17.2) (40.65,16.8) (40.8,17.8) (41.1,18.1) (41.4,18.3) (41.7,18.5) (42.0,18.7) (42.3,18.8) (42.6,19.0) (42.9,19.1) (43.2,19.2) (43.5,19.2) (43.8,19.3) (44.1,19.1) (44.4,19.0) (44.7,18.8) (45.0,18.6) (45.3,18.4) (45.6,18.0) (45.9,17.6) (46.2,17.2) (46.5,17.0) (46.8,16.5) (47.1,16.8) (47.4,16.3) (47.7,16.0) (48.0,15.8) (48.3,15.5) (48.6,15.3) (48.9,15.0) (49.2,14.8) (49.5,14.4) (49.8,14.2) (50.1,13.9) (50.3,13.4) (50.5,13.8) (50.8,13.5) (51.1,13.2) (51.4,12.9) (51.7,12.6) (52.0,12.4) (52.3,12.2) (52.6,11.9) (52.9,11.7) (53.2,11.5) (53.5,11.4) (53.8,11.2) (54.1,11.2) (54.4,11.0) (54.7,10.9) (55.0,10.8) (55.3,10.9) (55.6,10.8) (55.9,10.9) (56.2,10.8) (56.5,10.9) (56.8,10.9) (57.1,10.8) (57.4,10.9) (57.7,11.0) (58.0,10.9) (58.3,10.9) (58.45,11.5) (58.5,9.7) (58.8,9.9) (59.1,9.6) (59.4,9.8) (59.7,9.7) (60.0,10.0) (60.3,9.8) (60.5,10.4) (60.7,9.8) (61.0,9.9) (61.3,9.7) (61.6,10.3) (61.9,9.9) (62.2,10.0) (62.5,9.8) (62.8,10.1) (63.1,9.9) (63.4,10.0) (63.6,9.2) (63.8,9.4) (64.0,8.8) (64.2,8.9) (64.4,8.5) (64.6,8.3) (64.7,6.7) (64.85,7.0) (65.0,6.6) (65.15,6.9) (65.3,6.5) (65.45,6.8) (65.6,6.4) (65.75,6.6) (65.9,6.2) (66.05,6.3) (66.2,5.9) (66.35,6.1) (66.5,5.6) (66.65,5.9) (66.8,5.5) (66.95,5.8) (67.1,5.3) (67.3,5.7) (67.5,6.0) (67.7,5.4) (67.85,4.2) (68.0,5.5) (68.2,5.8) (68.4,5.3) (68.6,6.2) (68.8,5.4) (69.0,5.6) (69.2,5.1) (69.4,5.5) (69.6,5.0) (69.8,5.4) (70.0,5.2) (70.2,5.6) (70.4,4.9) (70.6,5.2) (70.8,4.7) (71.0,5.0) (71.2,4.6) (71.4,5.0) (71.6,4.5) (71.8,4.9) (72.0,4.4) (72.2,4.8) (72.4,4.3) (72.6,4.7) (72.8,4.2) (73.0,4.8) (73.2,4.3) (73.4,5.0) (73.6,5.8) (73.7,6.2) (73.85,5.3) (74.0,5.6) (74.2,5.2) (74.4,5.8) (74.6,5.6) (74.8,6.0) (75.0,5.8) (75.2,6.3) (75.4,6.0) (75.6,6.5) (75.8,6.2) (76.0,6.6) (76.2,6.3) (76.4,6.8) (76.6,6.5) (76.8,6.9) (77.0,6.4) (77.2,6.7) (77.4,6.3) (77.6,6.6) (77.8,6.0) (78.0,5.6) (78.2,6.4) (78.4,7.0) (78.6,7.5) (78.8,7.3) (79.0,7.5) (79.2,7.2) (79.4,7.4) (79.6,7.1) (79.8,7.3) (80.0,7.0) (80.2,7.4) (80.4,7.1) (80.6,6.8) (80.8,7.2) (81.0,5.8) (81.2,7.3) (81.4,7.1) (81.6,7.4) (81.8,7.0) (82.0,7.3) (82.2,7.1) (82.4,7.5) (82.6,7.0) (82.8,7.4) (83.0,7.1) (83.2,7.6) (83.4,7.2) (83.6,7.8) (83.8,7.3) (84.0,7.7) (84.2,7.2) (84.4,7.9) (84.6,7.4) (84.8,7.8) (85.0,7.3) (85.2,8.0) (85.4,7.5) (85.6,7.9) (85.8,7.4) (86.0,8.1) (86.2,7.6) (86.4,8.2) (86.6,7.8) (86.8,8.4) (87.0,8.1)};
\end{axis}
%================ Panel 5: Bx
\begin{axis}[panel, at={(0pt,243pt)}, lefty=-0.128,
 ymin=-16.9, ymax=13.5, ytick={-15,-10,...,10}, minor y tick num=2,
 ylabel={B\textsubscript{X, GSE} (nT)}]
\vlines{-16.9}{13.5}
\zline
\addplot[dat] coordinates {(6.0,-5.5) (6.2,-4.8) (6.4,-6.0) (6.6,-5.2) (6.8,-6.2) (7.0,-5.8) (7.3,-6.1) (7.6,-5.9) (7.9,-6.3) (8.2,-6.0) (8.5,-6.2) (8.8,-5.8) (8.95,-0.3) (9.1,-5.5) (9.4,-6.2) (9.7,-6.0) (10.0,-6.3) (10.3,-6.1) (10.5,-5.9) (10.6,0.3) (10.75,-5.7) (11.0,-6.2) (11.3,-6.4) (11.6,-6.0) (11.9,-4.2) (12.1,-6.1) (12.4,-6.3) (12.7,-6.5) (12.9,-4.5) (13.1,-6.0) (13.4,-6.2) (13.7,-5.6) (13.9,-3.5) (14.05,-1.6) (14.2,-4.0) (14.35,-2.2) (14.5,-4.5) (14.65,0.3) (14.8,-3.8) (14.95,-2.8) (15.1,-4.8) (15.25,-3.0) (15.4,-4.5) (15.55,-2.4) (15.7,-4.2) (15.85,-3.2) (16.0,-5.0) (16.1,2.8) (16.2,-4.8) (16.4,-5.8) (16.7,-5.3) (17.0,-6.0) (17.3,-5.5) (17.55,-5.8) (17.65,-7.5) (17.8,-5.0) (17.95,-9.0) (18.1,-7.0) (18.25,-9.7) (18.4,-6.5) (18.55,-8.8) (18.7,-7.5) (18.85,-10.0) (19.0,-6.0) (19.15,5.3) (19.3,-3.0) (19.45,-8.5) (19.6,-6.0) (19.75,-9.5) (19.9,-6.8) (20.05,-8.2) (20.2,-5.5) (20.35,-7.8) (20.5,-6.2) (20.65,-12.8) (20.8,-7.0) (20.95,-8.5) (21.1,-5.0) (21.25,-7.5) (21.4,-3.5) (21.55,-6.0) (21.7,-4.0) (21.85,-8.0) (22.0,-6.5) (22.15,-2.0) (22.3,4.7) (22.45,1.5) (22.6,3.5) (22.75,-0.5) (22.9,2.5) (23.05,-1.0) (23.2,1.0) (23.35,9.0) (23.5,2.0) (23.65,-2.5) (23.8,0.5) (23.95,-4.0) (24.1,-1.5) (24.25,-5.5) (24.4,-3.0) (24.55,-6.5) (24.7,-4.5) (24.85,4.0) (25.0,6.5) (25.15,5.0) (25.3,8.0) (25.45,6.0) (25.6,9.5) (25.75,7.0) (25.9,8.5) (26.05,6.5) (26.2,9.0) (26.35,7.5) (26.5,10.3) (26.65,8.0) (26.8,6.5) (26.95,8.5) (27.1,7.0) (27.25,7.8) (27.4,6.0) (27.55,7.0) (27.7,5.5) (27.85,6.5) (28.0,5.0) (28.15,6.2) (28.3,4.8) (28.45,5.5) (28.6,4.5) (28.75,5.2) (28.9,7.8) (29.05,4.8) (29.2,3.5) (29.35,4.2) (29.5,2.8) (29.65,3.5) (29.8,2.2) (29.9,-4.0) (30.0,-1.0) (30.1,2.0) (30.25,4.5) (30.4,5.3) (30.55,3.5) (30.7,4.8) (30.85,2.0) (31.0,3.5) (31.15,0.5) (31.3,2.5) (31.45,0.0) (31.6,3.8) (31.75,1.0) (31.9,0.5) (32.05,-0.8) (32.2,1.5) (32.35,0.0) (32.5,1.2) (32.65,-0.5) (32.8,1.0) (32.95,0.2) (33.1,-1.0) (33.2,-7.5) (33.35,-6.5) (33.5,-9.5) (33.65,-7.0) (33.8,-8.5) (33.9,1.6) (34.0,-8.0) (34.15,-10.0) (34.3,-8.2) (34.45,-9.5) (34.6,-8.0) (34.75,-9.7) (34.9,-8.5) (35.05,-9.3) (35.2,-9.8) (35.35,-10.5) (35.5,-9.6) (35.65,-10.8) (35.8,-10.2) (35.95,-11.0) (36.1,-10.4) (36.3,-10.9) (36.5,-10.3) (36.7,-11.0) (36.9,-10.5) (37.1,-11.2) (37.3,-10.6) (37.5,-11.4) (37.7,-10.8) (37.9,-11.5) (38.1,-10.2) (38.3,-11.2) (38.5,-10.5) (38.7,-11.8) (38.9,-11.0) (39.1,-12.0) (39.3,-11.2) (39.5,-12.2) (39.7,-10.5) (39.9,-11.5) (40.1,-12.0) (40.3,-12.5) (40.5,-11.8) (40.7,-12.8) (40.9,-12.0) (41.1,-12.6) (41.3,-11.5) (41.5,-10.5) (41.7,-12.5) (41.9,-12.0) (42.1,-13.0) (42.3,-12.4) (42.5,-13.5) (42.7,-13.0) (42.9,-14.0) (43.1,-14.5) (43.3,-14.8) (43.5,-14.2) (43.7,-14.6) (43.9,-13.8) (44.1,-14.2) (44.3,-13.0) (44.5,-13.6) (44.7,-12.5) (44.9,-13.2) (45.1,-11.8) (45.3,-12.4) (45.5,-11.0) (45.7,-11.6) (45.9,-10.0) (46.1,-9.0) (46.3,-10.5) (46.5,-8.5) (46.7,-9.5) (46.9,-7.5) (47.1,-7.0) (47.3,-8.0) (47.5,-7.2) (47.7,-7.8) (47.9,-6.8) (48.1,-7.5) (48.3,-6.5) (48.5,-7.0) (48.7,-6.2) (48.9,-6.6) (49.1,-5.8) (49.3,-6.3) (49.5,-5.5) (49.7,-6.0) (49.9,-5.2) (50.1,-4.5) (50.3,-7.0) (50.5,-8.5) (50.7,-9.2) (50.9,-10.5) (51.1,-9.5) (51.3,-10.8) (51.5,-9.8) (51.7,-10.2) (51.9,-8.5) (52.1,-9.5) (52.3,-8.2) (52.5,-9.0) (52.7,-8.4) (52.9,-9.2) (53.1,-8.3) (53.3,-8.8) (53.5,-8.5) (53.7,-9.0) (53.9,-8.2) (54.1,-8.8) (54.3,-8.0) (54.5,-8.6) (54.7,-8.2) (54.9,-8.7) (55.1,-8.0) (55.3,-8.4) (55.5,-7.8) (55.7,-8.3) (55.9,-7.6) (56.1,-8.0) (56.3,-7.5) (56.5,-7.8) (56.7,-7.2) (56.9,-7.6) (57.1,-6.5) (57.3,-7.2) (57.5,-6.3) (57.7,-6.8) (57.9,-5.8) (58.1,-6.5) (58.3,-4.5) (58.5,1.3) (58.65,-4.0) (58.8,-5.5) (58.95,-4.8) (59.1,-6.0) (59.25,-4.3) (59.4,-5.2) (59.55,-6.5) (59.7,-5.0) (59.85,-6.8) (60.0,-7.5) (60.15,-5.8) (60.3,-6.5) (60.45,-8.8) (60.6,-7.0) (60.75,-6.2) (60.9,-7.5) (61.05,-6.8) (61.2,-7.8) (61.35,-7.0) (61.5,-7.6) (61.65,-6.8) (61.8,-7.5) (61.95,-3.8) (62.1,-7.0) (62.25,-7.8) (62.4,-7.2) (62.55,-7.6) (62.7,-6.8) (62.85,-7.5) (63.0,-7.2) (63.15,-7.8) (63.3,-7.0) (63.45,-7.6) (63.6,-7.2) (63.75,-7.9) (63.9,-7.3) (64.05,-7.8) (64.2,-7.0) (64.35,-7.7) (64.5,-7.2) (64.65,-6.5) (64.75,2.8) (64.85,0.5) (64.95,-5.0) (65.1,2.0) (65.25,-3.0) (65.4,3.5) (65.55,-1.5) (65.7,0.5) (65.85,4.0) (66.0,1.0) (66.15,-1.0) (66.3,3.8) (66.45,-2.0) (66.6,-3.0) (66.75,-2.2) (66.9,-3.5) (67.05,-2.5) (67.2,-0.5) (67.35,2.0) (67.5,-0.5) (67.65,-2.5) (67.8,-4.0) (67.95,-2.0) (68.1,-3.5) (68.25,-1.0) (68.4,-2.8) (68.55,-0.5) (68.7,2.5) (68.85,4.5) (69.0,3.8) (69.15,4.8) (69.3,2.0) (69.45,4.2) (69.6,-1.5) (69.75,3.0) (69.9,4.0) (70.05,1.5) (70.2,-3.4) (70.35,2.0) (70.5,4.0) (70.65,2.5) (70.8,3.8) (70.95,1.5) (71.1,3.0) (71.25,0.5) (71.4,1.8) (71.55,-1.5) (71.7,-0.5) (71.85,-2.5) (72.0,-1.0) (72.15,-4.0) (72.3,-2.0) (72.45,-4.7) (72.6,-1.5) (72.75,-3.5) (72.9,-1.0) (73.05,-3.0) (73.2,0.0) (73.35,-2.8) (73.5,-1.5) (73.65,-4.5) (73.8,-0.5) (73.95,-2.0) (74.1,-3.8) (74.25,-1.0) (74.4,1.0) (74.55,4.0) (74.7,3.0) (74.85,5.0) (75.0,5.5) (75.2,4.8) (75.4,5.8) (75.6,5.0) (75.8,4.5) (76.0,5.5) (76.2,4.0) (76.4,5.0) (76.6,5.6) (76.8,5.0) (77.0,5.7) (77.2,5.2) (77.4,4.0) (77.6,2.5) (77.8,4.5) (78.0,5.8) (78.2,6.2) (78.4,5.8) (78.6,6.5) (78.8,6.0) (79.0,6.3) (79.2,5.8) (79.4,6.2) (79.6,5.5) (79.8,6.0) (80.0,5.6) (80.2,6.1) (80.4,5.7) (80.6,6.0) (80.8,5.4) (81.0,5.8) (81.2,5.2) (81.4,5.7) (81.5,-0.3) (81.6,5.5) (81.8,5.0) (82.0,5.5) (82.2,5.0) (82.4,5.6) (82.6,4.8) (82.8,5.4) (83.0,5.0) (83.2,5.5) (83.4,4.6) (83.6,5.2) (83.8,4.5) (84.0,5.0) (84.2,4.4) (84.4,5.6) (84.5,-1.5) (84.6,-3.5) (84.75,-5.5) (84.9,-2.5) (85.05,-4.8) (85.2,-3.0) (85.35,-6.0) (85.5,-2.8) (85.65,-5.0) (85.8,-3.2) (85.95,-6.2) (86.1,-3.0) (86.25,-5.5) (86.4,-2.5) (86.55,-4.5) (86.7,-1.5) (86.85,1.5) (87.0,3.0)};
\end{axis}
%================ Panel 6: By
\begin{axis}[panel, at={(0pt,162pt)}, righty=1.135,
 ymin=-16.6, ymax=18.6, ytick={-15,-10,...,15}, minor y tick num=2,
 ylabel={B\textsubscript{Y, GSE} (nT)}]
\vlines{-16.6}{18.6}
\zline
\addplot[dat] coordinates {(6.0,2.0) (6.15,3.8) (6.3,1.0) (6.45,4.8) (6.6,2.5) (6.75,4.0) (6.9,2.0) (7.05,3.5) (7.2,1.5) (7.35,3.0) (7.5,2.2) (7.65,4.0) (7.8,2.5) (7.95,3.5) (8.1,1.8) (8.25,4.2) (8.4,3.0) (8.55,5.0) (8.7,4.2) (8.85,6.3) (9.0,3.5) (9.15,1.0) (9.3,2.5) (9.45,-0.5) (9.6,1.8) (9.75,0.5) (9.9,2.0) (10.05,-0.8) (10.2,1.5) (10.35,0.5) (10.5,2.5) (10.65,5.8) (10.8,2.0) (10.95,0.0) (11.1,2.0) (11.25,0.5) (11.4,1.8) (11.55,0.8) (11.7,2.2) (11.85,1.0) (12.0,2.0) (12.15,0.0) (12.3,1.5) (12.45,2.5) (12.6,1.0) (12.75,2.2) (12.9,0.5) (13.05,1.8) (13.2,-0.2) (13.35,1.5) (13.5,0.8) (13.65,-1.7) (13.8,1.0) (13.95,3.5) (14.1,2.5) (14.25,4.5) (14.4,3.0) (14.55,5.5) (14.7,3.5) (14.85,4.8) (15.0,2.8) (15.15,4.0) (15.3,3.0) (15.45,5.5) (15.6,3.8) (15.75,6.2) (15.9,4.0) (16.05,3.0) (16.2,3.8) (16.35,2.8) (16.5,3.5) (16.65,2.5) (16.8,3.2) (16.95,2.0) (17.1,2.8) (17.25,1.5) (17.4,1.0) (17.55,0.8) (17.62,15.0) (17.7,10.0) (17.78,16.5) (17.85,2.0) (17.92,14.0) (18.0,-1.5) (18.08,12.0) (18.2,16.0) (18.35,13.5) (18.5,16.8) (18.65,14.0) (18.8,15.5) (18.95,12.5) (19.1,15.8) (19.25,13.0) (19.4,16.5) (19.55,14.5) (19.7,12.0) (19.85,15.0) (20.0,13.5) (20.15,16.0) (20.3,14.8) (20.45,17.0) (20.6,14.0) (20.75,16.2) (20.9,13.0) (21.05,11.0) (21.2,9.0) (21.35,12.0) (21.5,9.5) (21.6,8.0) (21.75,3.0) (21.9,-5.0) (22.05,-15.8) (22.15,-3.0) (22.25,8.0) (22.4,14.5) (22.55,15.8) (22.7,13.5) (22.85,16.0) (23.0,14.8) (23.15,15.5) (23.3,13.0) (23.45,14.0) (23.6,12.5) (23.75,3.0) (23.85,-11.0) (23.95,-2.0) (24.05,10.0) (24.2,15.5) (24.35,16.8) (24.5,15.2) (24.65,16.5) (24.8,15.0) (24.95,15.8) (25.1,14.0) (25.25,14.8) (25.4,13.0) (25.55,13.8) (25.7,12.0) (25.85,12.8) (26.0,11.0) (26.15,12.0) (26.3,10.0) (26.45,11.0) (26.6,9.0) (26.75,10.0) (26.9,8.0) (27.05,5.0) (27.2,8.5) (27.35,7.5) (27.5,8.2) (27.65,7.0) (27.8,7.8) (27.95,6.8) (28.1,7.5) (28.25,6.5) (28.4,7.2) (28.55,6.0) (28.7,7.0) (28.85,5.8) (29.0,6.8) (29.15,5.5) (29.3,6.5) (29.45,4.5) (29.55,2.0) (29.65,-4.0) (29.75,-8.6) (29.85,-3.0) (29.95,2.5) (30.1,5.0) (30.25,6.7) (30.4,5.5) (30.55,6.2) (30.7,4.5) (30.85,5.2) (31.0,3.8) (31.15,4.5) (31.3,2.5) (31.45,0.0) (31.6,-2.0) (31.75,-4.0) (31.9,-3.0) (32.05,-5.5) (32.2,-4.5) (32.35,-6.5) (32.5,-5.5) (32.65,-7.5) (32.8,-6.5) (32.95,-9.3) (33.1,-7.0) (33.25,-5.0) (33.4,-1.0) (33.55,1.5) (33.7,-1.5) (33.85,1.6) (34.0,-0.5) (34.15,1.0) (34.3,-2.0) (34.45,0.5) (34.6,-1.5) (34.75,-0.5) (34.9,-2.5) (35.05,-1.8) (35.2,-3.5) (35.35,-2.8) (35.5,-4.2) (35.65,-3.8) (35.8,-5.0) (35.95,-4.5) (36.1,-5.8) (36.3,-5.2) (36.5,-6.5) (36.7,-6.0) (36.9,-7.2) (37.1,-7.0) (37.3,-8.0) (37.5,-7.6) (37.7,-8.6) (37.9,-8.3) (38.1,-9.2) (38.3,-9.0) (38.5,-9.8) (38.7,-10.0) (38.9,-9.6) (39.1,-10.5) (39.3,-10.2) (39.5,-11.0) (39.7,-10.6) (39.9,-11.2) (40.1,-10.8) (40.3,-11.5) (40.5,-11.0) (40.7,-11.8) (40.9,-11.3) (41.1,-12.0) (41.3,-11.5) (41.5,-12.3) (41.7,-11.8) (41.9,-12.5) (42.1,-12.0) (42.3,-12.8) (42.5,-12.2) (42.7,-13.0) (42.9,-12.5) (43.1,-13.2) (43.3,-12.6) (43.5,-13.5) (43.7,-12.8) (43.9,-14.5) (44.1,-13.0) (44.3,-15.5) (44.5,-13.2) (44.7,-14.0) (44.9,-12.8) (45.1,-13.8) (45.3,-12.6) (45.5,-13.5) (45.7,-12.4) (45.9,-14.2) (46.1,-12.8) (46.3,-13.6) (46.5,-12.5) (46.7,-14.8) (46.9,-12.6) (47.1,-13.5) (47.3,-12.2) (47.5,-13.2) (47.7,-11.8) (47.9,-12.8) (48.1,-11.5) (48.3,-12.4) (48.5,-11.0) (48.7,-11.8) (48.9,-10.5) (49.1,-11.2) (49.3,-10.0) (49.5,-10.8) (49.7,-9.2) (49.9,-9.8) (50.1,-8.5) (50.3,-8.8) (50.5,-7.5) (50.7,-7.0) (50.9,-5.5) (51.1,-6.0) (51.3,-4.2) (51.5,-4.8) (51.7,-3.0) (51.9,-1.5) (52.1,-2.2) (52.3,0.0) (52.5,-0.8) (52.7,1.5) (52.9,0.8) (53.1,2.8) (53.3,2.0) (53.5,3.8) (53.7,3.0) (53.9,4.8) (54.1,4.0) (54.3,5.5) (54.5,4.8) (54.7,6.2) (54.9,5.5) (55.1,7.0) (55.3,6.0) (55.5,7.2) (55.7,6.5) (55.9,7.8) (56.1,7.0) (56.3,8.2) (56.5,7.2) (56.7,8.5) (56.9,7.8) (57.1,9.0) (57.3,8.0) (57.5,9.5) (57.7,8.5) (57.9,9.8) (58.1,9.0) (58.3,10.2) (58.5,9.0) (58.7,9.8) (58.9,8.8) (59.1,9.5) (59.3,8.5) (59.5,9.0) (59.7,8.0) (59.9,8.8) (60.1,7.8) (60.3,8.5) (60.5,7.5) (60.7,8.2) (60.9,7.2) (61.1,7.8) (61.3,6.8) (61.5,7.5) (61.7,6.5) (61.9,7.2) (62.1,6.2) (62.3,6.8) (62.5,5.8) (62.7,6.5) (62.9,5.5) (63.1,6.2) (63.3,5.0) (63.5,6.0) (63.7,4.8) (63.9,5.6) (64.1,4.5) (64.3,5.5) (64.5,4.2) (64.7,6.5) (64.85,4.0) (65.0,6.8) (65.15,3.5) (65.3,5.5) (65.45,2.8) (65.6,5.0) (65.75,3.5) (65.9,6.0) (66.05,4.2) (66.2,5.5) (66.35,2.0) (66.5,4.5) (66.65,3.0) (66.8,5.2) (66.95,3.5) (67.1,4.8) (67.25,2.5) (67.4,4.0) (67.55,5.5) (67.7,3.8) (67.85,5.0) (68.0,1.5) (68.15,4.2) (68.3,3.0) (68.45,4.8) (68.6,3.5) (68.75,5.0) (68.9,2.8) (69.05,4.5) (69.2,3.2) (69.35,4.8) (69.5,3.0) (69.65,4.2) (69.8,2.0) (69.95,3.8) (70.1,2.5) (70.25,4.5) (70.4,3.2) (70.55,4.0) (70.7,2.8) (70.85,4.5) (71.0,3.0) (71.15,4.2) (71.3,0.5) (71.45,3.5) (71.6,2.5) (71.75,4.0) (71.9,2.8) (72.05,3.8) (72.2,2.5) (72.35,3.5) (72.5,2.2) (72.65,3.8) (72.8,2.8) (72.95,4.0) (73.1,3.0) (73.25,4.2) (73.4,2.5) (73.55,3.5) (73.7,2.8) (73.85,4.0) (74.0,3.2) (74.2,4.5) (74.4,3.5) (74.6,2.0) (74.8,3.8) (75.0,2.8) (75.2,4.0) (75.4,3.0) (75.6,4.2) (75.8,2.5) (76.0,3.5) (76.2,2.8) (76.4,4.0) (76.6,3.0) (76.8,3.8) (77.0,1.5) (77.2,3.5) (77.4,2.8) (77.6,4.0) (77.8,3.0) (78.0,4.2) (78.2,3.2) (78.4,4.5) (78.6,3.5) (78.8,4.2) (79.0,3.0) (79.2,4.0) (79.4,3.2) (79.6,4.5) (79.8,3.5) (80.0,4.8) (80.2,3.8) (80.4,4.5) (80.6,3.2) (80.8,4.0) (81.0,3.5) (81.2,4.8) (81.4,2.5) (81.6,4.2) (81.8,3.5) (82.0,4.5) (82.2,3.8) (82.4,4.8) (82.6,3.5) (82.8,4.2) (83.0,3.0) (83.2,4.5) (83.4,3.8) (83.6,5.0) (83.8,3.5) (84.0,4.5) (84.2,3.2) (84.4,4.8) (84.6,3.5) (84.8,5.5) (85.0,4.0) (85.2,5.2) (85.4,3.0) (85.6,4.5) (85.8,5.8) (86.0,4.2) (86.2,6.0) (86.4,4.5) (86.6,6.5) (86.8,5.0) (87.0,6.7)};
\end{axis}
%================ Panel 7: Bz
\begin{axis}[panel, at={(0pt,81pt)}, lefty=-0.128,
 ymin=-17.8, ymax=13.9, ytick={-15,-10,...,10}, minor y tick num=2,
 ylabel={B\textsubscript{Z, GSE} (nT)}]
\vlines{-17.8}{13.9}
\zline
\addplot[dat] coordinates {(6.0,0.5) (6.2,-1.0) (6.4,1.0) (6.6,-0.5) (6.8,1.5) (7.0,0.0) (7.2,2.0) (7.4,0.5) (7.6,1.8) (7.8,0.8) (8.0,2.5) (8.2,1.0) (8.4,2.0) (8.6,1.2) (8.8,2.8) (9.0,1.5) (9.2,3.0) (9.4,2.0) (9.6,1.0) (9.8,2.5) (10.0,1.5) (10.2,3.0) (10.4,2.0) (10.6,3.5) (10.8,2.2) (11.0,1.5) (11.2,2.8) (11.4,2.0) (11.6,3.2) (11.8,2.5) (12.0,1.8) (12.2,3.0) (12.4,2.2) (12.6,3.5) (12.8,2.5) (13.0,4.0) (13.2,2.8) (13.4,3.5) (13.6,2.5) (13.8,4.5) (14.0,3.0) (14.2,3.8) (14.4,2.5) (14.6,4.0) (14.8,3.2) (15.0,5.0) (15.2,3.0) (15.4,4.2) (15.6,3.0) (15.8,3.8) (16.0,2.5) (16.2,3.5) (16.4,2.8) (16.6,4.0) (16.8,3.0) (17.0,3.5) (17.2,2.5) (17.4,3.8) (17.55,3.0) (17.62,10.0) (17.7,-5.0) (17.78,8.0) (17.86,-10.0) (17.94,12.0) (18.02,-3.0) (18.1,6.0) (18.2,-8.0) (18.3,5.0) (18.4,10.0) (18.5,-2.0) (18.6,7.0) (18.7,-12.0) (18.8,3.0) (18.9,-6.0) (19.0,9.0) (19.1,-4.0) (19.2,12.0) (19.3,-9.0) (19.4,4.0) (19.5,-2.0) (19.6,8.0) (19.7,-7.0) (19.8,2.0) (19.9,-11.0) (20.0,5.0) (20.1,10.0) (20.2,-5.0) (20.3,3.0) (20.4,-8.0) (20.5,6.0) (20.6,-3.0) (20.7,11.0) (20.8,-6.0) (20.9,-12.0) (21.0,4.0) (21.1,-2.0) (21.2,8.0) (21.3,-9.0) (21.4,2.0) (21.5,-4.0) (21.6,9.0) (21.7,-7.0) (21.8,-13.0) (21.9,-3.0) (22.0,-8.0) (22.1,-17.0) (22.2,-5.0) (22.3,6.0) (22.4,-10.0) (22.5,12.0) (22.6,3.0) (22.7,-6.0) (22.8,8.0) (22.9,13.0) (23.0,0.0) (23.1,-4.0) (23.2,7.0) (23.3,2.0) (23.4,10.0) (23.5,5.0) (23.6,11.0) (23.7,6.0) (23.8,9.0) (23.9,4.0) (24.0,8.0) (24.15,3.0) (24.3,6.0) (24.45,1.0) (24.6,4.0) (24.75,-1.0) (24.9,2.0) (25.05,-3.0) (25.2,0.5) (25.35,-4.0) (25.5,-2.0) (25.65,-6.0) (25.8,-4.0) (25.95,-8.0) (26.1,-6.0) (26.25,-9.5) (26.4,-8.0) (26.55,-10.5) (26.7,-9.0) (26.85,-11.0) (27.0,-9.5) (27.15,-10.5) (27.3,-9.0) (27.45,-10.0) (27.6,-8.5) (27.75,-9.5) (27.9,-8.0) (28.05,-9.0) (28.2,-7.5) (28.35,-8.5) (28.5,-7.0) (28.65,-8.0) (28.8,-6.5) (28.95,-7.5) (29.1,-6.0) (29.25,-7.0) (29.4,-5.5) (29.55,-6.8) (29.7,-5.0) (29.85,-6.5) (30.0,-4.5) (30.1,0.0) (30.18,10.0) (30.25,-3.0) (30.35,-11.0) (30.5,-9.5) (30.65,-10.8) (30.8,-9.2) (30.95,-10.5) (31.1,-9.0) (31.25,-10.2) (31.4,-8.8) (31.55,-10.0) (31.7,-9.2) (31.85,-10.5) (32.0,-9.5) (32.15,-10.8) (32.3,-9.8) (32.45,-11.0) (32.6,-10.0) (32.75,-11.2) (32.9,-10.2) (33.05,-11.0) (33.2,-9.5) (33.35,-10.5) (33.5,-9.0) (33.65,-10.2) (33.8,-9.0) (33.95,-10.5) (34.1,-9.2) (34.25,-10.8) (34.4,-9.5) (34.55,-11.0) (34.7,-9.8) (34.85,-10.5) (35.0,-9.2) (35.15,-10.0) (35.3,-8.8) (35.45,-9.8) (35.6,-8.5) (35.75,-9.5) (35.9,-8.2) (36.05,-9.0) (36.2,-8.0) (36.35,-9.2) (36.5,-8.4) (36.65,-9.5) (36.8,-8.6) (36.95,-9.0) (37.1,-7.8) (37.25,-8.8) (37.4,-7.5) (37.55,-8.5) (37.7,-7.2) (37.85,-8.2) (38.0,-7.0) (38.15,-8.0) (38.3,-7.5) (38.45,-9.0) (38.6,-8.0) (38.75,-9.5) (38.9,-8.5) (39.05,-10.0) (39.2,-9.0) (39.35,-10.5) (39.5,-9.5) (39.65,-11.5) (39.8,-10.0) (39.95,-11.0) (40.1,-9.5) (40.25,-10.2) (40.4,-8.5) (40.55,-9.0) (40.7,-7.0) (40.85,-6.0) (41.0,-5.5) (41.15,-4.0) (41.3,-3.0) (41.45,-1.5) (41.6,-0.5) (41.75,1.0) (41.9,2.0) (42.05,3.0) (42.2,4.0) (42.35,4.5) (42.5,5.5) (42.65,5.0) (42.8,6.0) (42.95,5.5) (43.1,6.5) (43.25,6.0) (43.4,7.0) (43.55,6.5) (43.7,7.5) (43.85,7.0) (44.0,8.0) (44.2,7.5) (44.4,8.5) (44.6,8.0) (44.8,9.0) (45.0,8.5) (45.2,9.2) (45.4,8.8) (45.6,9.5) (45.8,9.0) (46.0,9.8) (46.2,9.3) (46.4,10.0) (46.6,9.5) (46.8,10.2) (47.0,9.6) (47.2,10.3) (47.4,9.8) (47.6,10.4) (47.8,9.7) (48.0,10.2) (48.2,9.5) (48.4,10.0) (48.6,9.2) (48.8,9.8) (49.0,9.0) (49.2,9.6) (49.4,8.8) (49.6,9.5) (49.8,9.0) (50.0,9.8) (50.2,9.2) (50.4,10.0) (50.6,9.4) (50.8,9.8) (51.0,9.0) (51.2,9.6) (51.4,8.8) (51.6,9.4) (51.8,8.5) (52.0,9.2) (52.2,8.6) (52.4,9.5) (52.6,8.8) (52.8,9.3) (53.0,8.5) (53.2,9.0) (53.4,8.0) (53.6,8.8) (53.8,7.5) (54.0,8.5) (54.2,6.5) (54.4,8.0) (54.6,7.0) (54.8,8.2) (55.0,6.0) (55.2,7.5) (55.4,6.8) (55.6,8.0) (55.8,7.2) (56.0,6.5) (56.2,7.8) (56.4,6.0) (56.6,7.0) (56.8,5.5) (57.0,6.5) (57.2,4.0) (57.4,5.5) (57.6,3.0) (57.8,1.0) (57.95,-2.0) (58.1,-4.5) (58.25,2.0) (58.4,-1.0) (58.55,5.0) (58.7,-3.0) (58.85,1.5) (59.0,-5.5) (59.15,0.5) (59.3,-2.5) (59.45,-7.0) (59.6,0.0) (59.75,3.5) (59.9,-1.5) (60.05,2.0) (60.2,-3.0) (60.35,1.0) (60.5,4.0) (60.65,-2.0) (60.8,2.5) (60.95,-1.0) (61.1,3.0) (61.25,0.0) (61.4,-2.5) (61.55,1.5) (61.7,4.5) (61.85,0.5) (62.0,-3.5) (62.15,2.0) (62.3,-1.0) (62.45,3.5) (62.6,0.0) (62.75,2.5) (62.9,-1.5) (63.05,4.0) (63.2,1.0) (63.35,5.0) (63.5,2.0) (63.65,4.5) (63.8,1.5) (63.95,5.5) (64.1,3.0) (64.25,4.8) (64.4,2.0) (64.55,3.5) (64.7,-3.0) (64.85,-5.0) (65.0,-2.0) (65.15,-4.5) (65.3,-3.0) (65.45,-5.5) (65.6,-3.5) (65.75,-6.0) (65.9,-2.5) (66.05,-4.0) (66.2,-2.0) (66.35,-4.8) (66.5,-3.2) (66.65,-5.2) (66.8,-3.0) (66.95,-4.5) (67.1,-2.5) (67.25,-4.0) (67.4,-2.8) (67.55,-5.0) (67.7,-3.5) (67.85,-4.8) (68.0,-3.0) (68.2,-4.2) (68.4,-2.5) (68.6,-4.0) (68.8,-3.2) (69.0,-5.0) (69.2,-3.5) (69.4,-4.5) (69.6,-2.8) (69.8,-4.2) (70.0,-3.0) (70.2,-4.8) (70.4,-3.5) (70.6,-5.5) (70.8,-3.8) (71.0,-4.5) (71.2,-3.0) (71.4,-4.2) (71.6,-2.8) (71.8,-4.0) (72.0,-3.2) (72.2,-4.5) (72.4,-3.5) (72.6,-5.0) (72.8,-3.8) (73.0,-4.5) (73.2,-3.0) (73.4,-4.2) (73.6,-3.5) (73.8,-5.0) (74.0,-3.8) (74.2,-4.8) (74.4,-3.5) (74.6,-4.5) (74.8,-3.2) (75.0,-4.0) (75.2,-3.0) (75.4,-4.2) (75.6,-3.5) (75.8,-4.8) (76.0,-3.8) (76.2,-5.0) (76.4,-4.0) (76.6,-4.8) (76.8,-3.5) (77.0,-4.5) (77.2,-3.2) (77.4,-4.0) (77.6,-3.0) (77.8,-4.5) (78.0,-3.5) (78.2,-5.0) (78.4,-4.2) (78.6,-5.5) (78.8,-4.0) (79.0,-4.8) (79.2,-3.5) (79.4,-4.5) (79.6,-3.2) (79.8,-4.2) (80.0,-3.0) (80.2,-4.0) (80.4,-3.2) (80.6,-4.5) (80.8,-3.5) (81.0,-4.8) (81.2,-3.8) (81.4,-5.0) (81.6,-4.0) (81.8,-5.2) (82.0,-4.2) (82.2,-5.5) (82.4,-4.5) (82.6,-5.8) (82.8,-4.8) (83.0,-5.5) (83.2,-4.5) (83.4,-6.0) (83.6,-5.0) (83.8,-5.8) (84.0,-4.2) (84.2,-5.5) (84.4,-3.5) (84.6,-5.2) (84.8,-3.0) (85.0,-4.5) (85.2,-2.5) (85.4,-5.0) (85.6,-3.0) (85.8,-5.5) (86.0,-3.5) (86.2,-6.0) (86.4,-2.0) (86.6,-5.0) (86.8,-7.0) (87.0,-5.5)};
\end{axis}
%================ Panel 8: Dst
\begin{axis}[panel, at={(0pt,0pt)}, righty=1.135,
 ymin=-93.4, ymax=10.2, ytick={-80,-60,...,0}, minor y tick num=1,
 ylabel={D\textsubscript{st} (nT)},
 xticklabels={12:00 06,12:00 07,12:00 08,12:00 09},
 xlabel={Universal Time in Nov. 2015},
 every axis x label/.style={at={(axis description cs:0.5,-0.377)}, anchor=center, font=\lbl}]
\vlines{-93.4}{10.2}
\zline
\addplot[black, line width=0.5pt, mark=diamond, mark size=2.4pt, mark options={solid, fill=white, line width=0.4pt}] coordinates {(6,-27) (7,-26) (8,-26) (9,-25) (10,-25) (11,-23) (12,-22) (13,-20) (14,-17) (15,-14) (16,-12) (17,-4) (18,2) (19,-3) (20,-9) (21,-15) (22,-20) (23,-25) (24,-31) (25,-40) (26,-50) (27,-61) (28,-74) (29,-85) (30,-89) (31,-84) (32,-71) (33,-76) (34,-63) (35,-73) (36,-70) (37,-68) (38,-67) (39,-64) (40,-52) (41,-44) (42,-38) (43,-33) (44,-29) (45,-27) (46,-26) (47,-25) (48,-23) (49,-21) (50,-25) (51,-24) (52,-25) (53,-23) (54,-22) (55,-27) (56,-26) (57,-30) (58,-32) (59,-37) (60,-40) (61,-41) (62,-41) (63,-40) (64,-42) (65,-40) (66,-43) (67,-44) (68,-44) (69,-45) (70,-46) (71,-46) (72,-46) (73,-45) (74,-45) (75,-44) (76,-43) (77,-44) (78,-45) (79,-44) (80,-43) (81,-45) (82,-46) (83,-48) (84,-50) (85,-52) (86,-54) (87,-55)};
\end{axis}
\end{tikzpicture}
\end{document}
